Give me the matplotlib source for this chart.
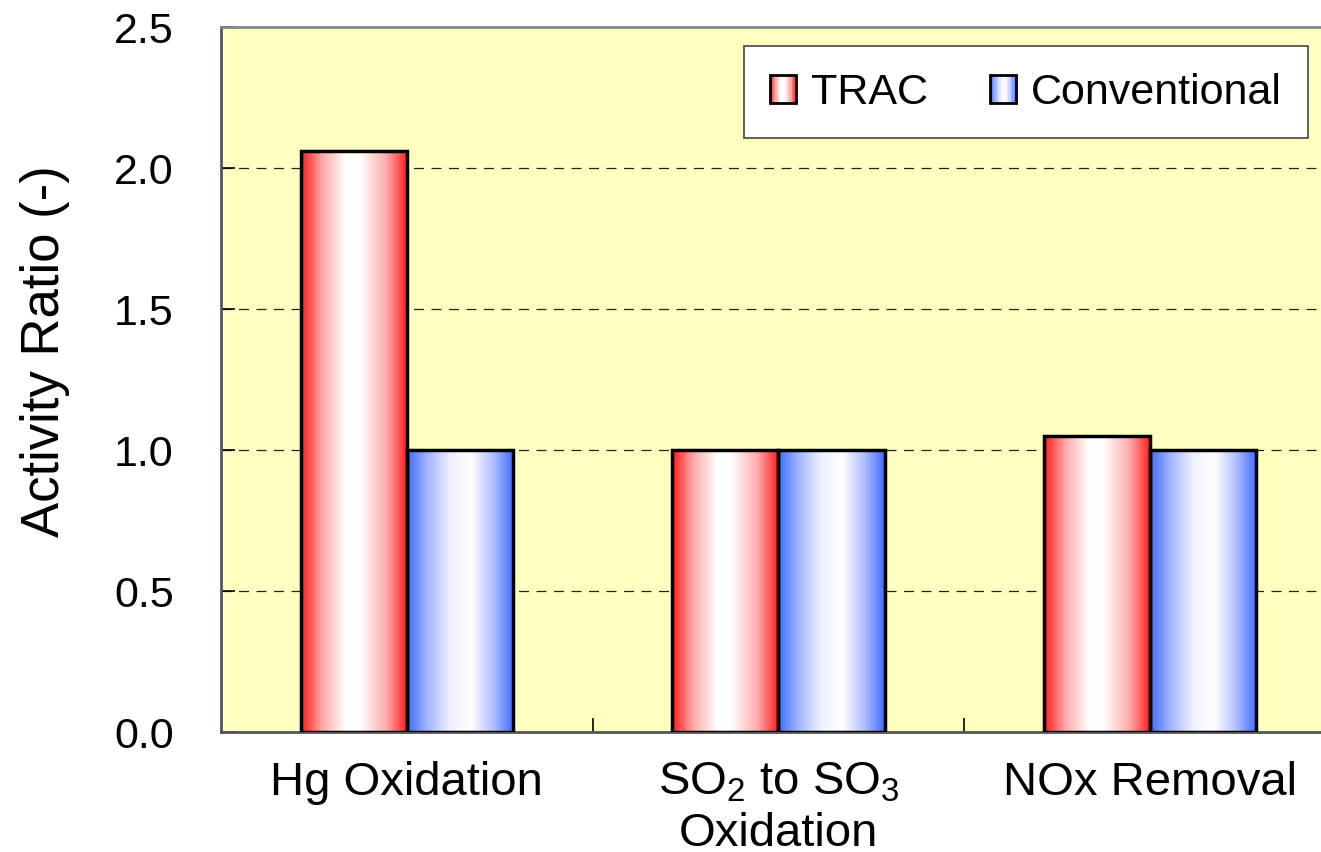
import matplotlib
matplotlib.use("Agg")
import matplotlib.pyplot as plt
import numpy as np
from matplotlib.colors import LinearSegmentedColormap
from matplotlib.patches import Rectangle
from matplotlib.legend_handler import HandlerBase

plt.rcParams['font.family'] = ['Liberation Sans', 'DejaVu Sans']
plt.rcParams['mathtext.fontset'] = 'custom'
plt.rcParams['mathtext.rm'] = 'Liberation Sans'
plt.rcParams['mathtext.default'] = 'regular'

# data
categories = ["Hg Oxidation", "SO$_2$ to SO$_3$\nOxidation", "NOx Removal"]
series = ["TRAC", "Conventional"]
trac = [2.06, 1.0, 1.05]
conventional = [1.0, 1.0, 1.0]
yticks = [0.0, 0.5, 1.0, 1.5, 2.0, 2.5]

# gradient colormaps (edge -> white -> edge)
red_cm = LinearSegmentedColormap.from_list(
    "redgrad", [(0, "#ff1a1a"), (0.2, "#ffaaaa"), (0.42, "#ffffff"),
                (0.55, "#ffffff"), (0.8, "#ffaaaa"), (1, "#ff1a1a")])
blue_cm = LinearSegmentedColormap.from_list(
    "bluegrad", [(0, "#3f6bff"), (0.18, "#9db2ff"), (0.4, "#eef0ff"),
                 (0.6, "#ffffff"), (0.8, "#b4c2ff"), (1, "#3f6bff")])
cmaps = [red_cm, blue_cm]

fig = plt.figure(figsize=(13.21, 8.53), dpi=100)
ax = fig.add_axes([221/1321, 120/853, 1115/1321, 705/853])
ax.set_facecolor("#ffffc0")

x = np.arange(len(categories))
w = 0.286
grad = np.linspace(0, 1, 256).reshape(1, -1)

for i, vals in enumerate([trac, conventional]):
    offs = (i - 0.5) * w
    bars = ax.bar(x + offs, vals, w, facecolor="none", edgecolor="black",
                  linewidth=2.5, zorder=4)
    for b in bars:
        x0, h = b.get_x(), b.get_height()
        ax.imshow(grad, cmap=cmaps[i], aspect="auto", zorder=3,
                  extent=[x0, x0 + w, 0, h], interpolation="bilinear")

ax.set_xlim(-0.5, 2.5)
ax.set_ylim(0, 2.5)
ax.set_yticks(yticks)
ax.set_yticklabels([f"{t:.1f}" for t in yticks])
for t in yticks[1:-1]:
    ax.axhline(t, color="#222222", linestyle=(0, (8, 6)), linewidth=0.9, zorder=1)

ax.set_xticks(x)
ax.set_xticklabels(categories)
ax.set_xticks([0.5, 1.5], minor=True)
ax.tick_params(axis="x", which="major", length=0, pad=20, labelsize=34)
ax.tick_params(axis="x", which="minor", direction="in", length=10, width=1.2)
ax.tick_params(axis="y", direction="in", length=10, width=1.2, pad=34, labelsize=31)

for s in ["left", "bottom"]:
    ax.spines[s].set_color("#555555")
    ax.spines[s].set_linewidth(2)
ax.spines["top"].set_color("#888888")
ax.spines["top"].set_linewidth(2)
ax.spines["right"].set_visible(False)

ax.set_ylabel("Activity Ratio (-)", fontsize=38)
ax.yaxis.set_label_coords(-0.135, 0.542)


class GradHandler(HandlerBase):
    def __init__(self, cmap):
        super().__init__()
        self.cmap = cmap

    def create_artists(self, legend, orig, xd, yd, width, height, fontsize, trans):
        arts = []
        n = 20
        x0 = xd
        y0 = -yd - height * 0.05
        for k in range(n):
            r = Rectangle((x0 + k * width / n, y0), width / n + 0.2, height,
                          facecolor=self.cmap((k + 0.5) / n), edgecolor="none",
                          transform=trans)
            arts.append(r)
        arts.append(Rectangle((x0, y0), width, height, facecolor="none",
                              edgecolor="black", linewidth=2, transform=trans))
        return arts


h1 = Rectangle((0, 0), 1, 1)
h2 = Rectangle((0, 0), 1, 1)
leg = ax.legend([h1, h2], series, loc="upper right", ncol=2, fontsize=31,
                bbox_to_anchor=((1308 - 221) / 1115, (733 - 47) / 705),
                handler_map={h1: GradHandler(red_cm), h2: GradHandler(blue_cm)},
                handlelength=0.6, handleheight=0.63, handletextpad=0.35,
                columnspacing=1.45, borderpad=0.6, fancybox=False, framealpha=1,
                edgecolor="#444444", borderaxespad=0)
leg.get_frame().set_linewidth(1.2)
leg.set_zorder(6)

fig.savefig("out.png", dpi=100)
